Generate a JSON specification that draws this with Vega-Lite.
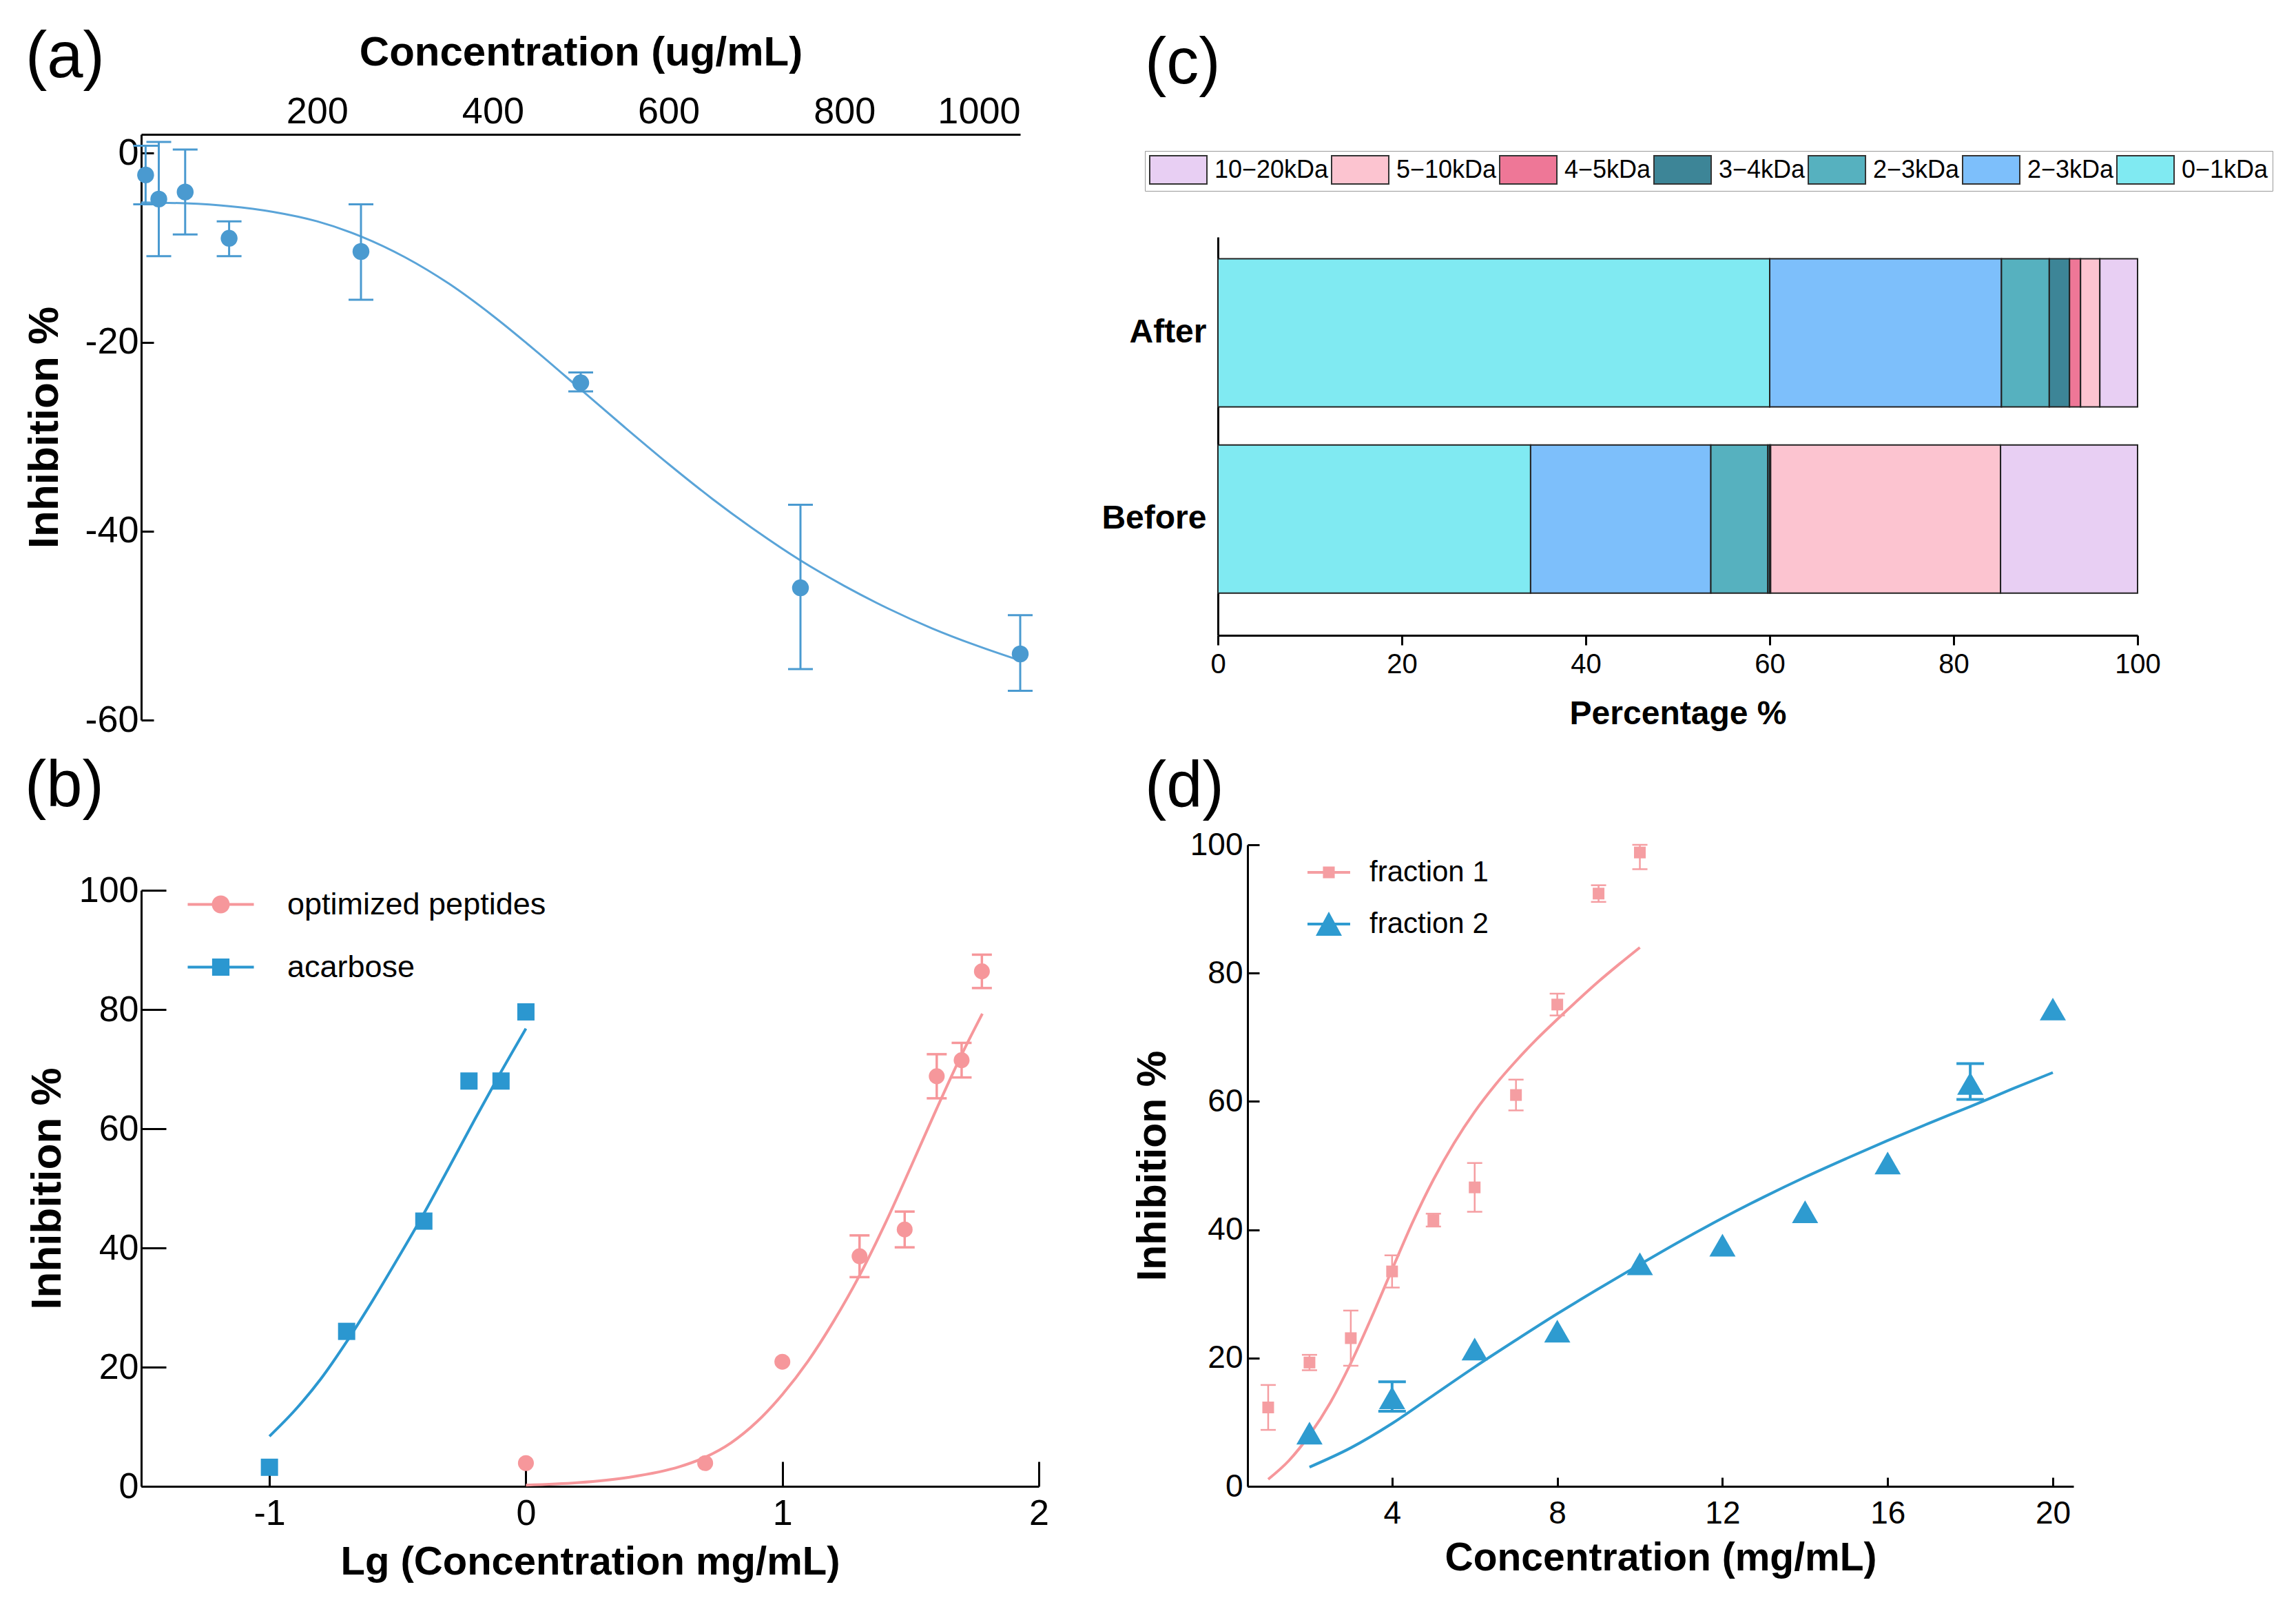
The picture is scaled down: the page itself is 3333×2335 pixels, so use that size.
{
  "$schema": "https://vega.github.io/schema/vega-lite/v6.json",
  "background": "white",
  "padding": {"left": 33, "top": 37, "right": 10, "bottom": 10},
  "config": {
    "view": {"stroke": null},
    "font": "Liberation Sans",
    "axis": {"grid": false, "domainColor": "#000", "domainWidth": 3, "tickColor": "#000", "tickWidth": 3, "labelColor": "#000", "titleColor": "#000", "labelFont": "Liberation Sans", "titleFont": "Liberation Sans", "titleFontWeight": "bold", "labelFlush": false, "labelOverlap": false},
    "legend": {"labelFont": "Liberation Sans", "labelColor": "#000", "labelLimit": 400},
    "title": {"font": "Liberation Sans", "fontWeight": "normal", "color": "#000", "anchor": "start", "frame": "group"}
  },
  "datasets": {
    "a_pts": [
      {"conc": 5, "inh": -2.3, "lo": -5.4, "hi": 0.8},
      {"conc": 20, "inh": -4.85, "lo": -10.9, "hi": 1.2},
      {"conc": 50, "inh": -4.1, "lo": -8.6, "hi": 0.4},
      {"conc": 100, "inh": -9.0, "lo": -10.9, "hi": -7.2},
      {"conc": 250, "inh": -10.4, "lo": -15.5, "hi": -5.4},
      {"conc": 500, "inh": -24.3, "lo": -25.2, "hi": -23.2},
      {"conc": 750, "inh": -46.0, "lo": -54.6, "hi": -37.2},
      {"conc": 1000, "inh": -53.0, "lo": -56.9, "hi": -48.9}
    ],
    "a_fit": [
      {"conc": 0, "inh": -5.2}, {"conc": 50, "inh": -5.3}, {"conc": 100, "inh": -5.6}, {"conc": 150, "inh": -6.2},
      {"conc": 200, "inh": -7.2}, {"conc": 250, "inh": -8.8}, {"conc": 300, "inh": -11.0}, {"conc": 350, "inh": -13.8},
      {"conc": 400, "inh": -17.2}, {"conc": 450, "inh": -21.0}, {"conc": 500, "inh": -25.0}, {"conc": 550, "inh": -29.0},
      {"conc": 600, "inh": -32.9}, {"conc": 650, "inh": -36.6}, {"conc": 700, "inh": -40.0}, {"conc": 750, "inh": -43.1},
      {"conc": 800, "inh": -45.8}, {"conc": 850, "inh": -48.2}, {"conc": 900, "inh": -50.3}, {"conc": 950, "inh": -52.1},
      {"conc": 1000, "inh": -53.7}
    ],
    "b_pts": [
      {"series": "acarbose", "lgc": -1, "inh": 3.2},
      {"series": "acarbose", "lgc": -0.699, "inh": 26.0},
      {"series": "acarbose", "lgc": -0.398, "inh": 44.5},
      {"series": "acarbose", "lgc": -0.222, "inh": 68.0},
      {"series": "acarbose", "lgc": -0.097, "inh": 68.0},
      {"series": "acarbose", "lgc": 0, "inh": 79.6},
      {"series": "optimized peptides", "lgc": 0, "inh": 3.9},
      {"series": "optimized peptides", "lgc": 0.699, "inh": 3.9},
      {"series": "optimized peptides", "lgc": 1.0, "inh": 20.9},
      {"series": "optimized peptides", "lgc": 1.301, "inh": 38.6, "lo": 35.1, "hi": 42.1},
      {"series": "optimized peptides", "lgc": 1.477, "inh": 43.1, "lo": 40.1, "hi": 46.1},
      {"series": "optimized peptides", "lgc": 1.602, "inh": 68.8, "lo": 65.1, "hi": 72.5},
      {"series": "optimized peptides", "lgc": 1.699, "inh": 71.5, "lo": 68.6, "hi": 74.4},
      {"series": "optimized peptides", "lgc": 1.778, "inh": 86.4, "lo": 83.6, "hi": 89.2}
    ],
    "b_fit": [
      {"series": "acarbose", "lgc": -1, "inh": 8.4}, {"series": "acarbose", "lgc": -0.9, "inh": 12.8},
      {"series": "acarbose", "lgc": -0.8, "inh": 18.0}, {"series": "acarbose", "lgc": -0.7, "inh": 24.2},
      {"series": "acarbose", "lgc": -0.6, "inh": 31.0}, {"series": "acarbose", "lgc": -0.5, "inh": 38.2},
      {"series": "acarbose", "lgc": -0.4, "inh": 45.6}, {"series": "acarbose", "lgc": -0.3, "inh": 53.5},
      {"series": "acarbose", "lgc": -0.2, "inh": 61.5}, {"series": "acarbose", "lgc": -0.1, "inh": 69.3},
      {"series": "acarbose", "lgc": 0, "inh": 76.8},
      {"series": "optimized peptides", "lgc": 0, "inh": 0.2}, {"series": "optimized peptides", "lgc": 0.2, "inh": 0.6},
      {"series": "optimized peptides", "lgc": 0.4, "inh": 1.5}, {"series": "optimized peptides", "lgc": 0.6, "inh": 3.3},
      {"series": "optimized peptides", "lgc": 0.7, "inh": 4.9}, {"series": "optimized peptides", "lgc": 0.8, "inh": 7.3},
      {"series": "optimized peptides", "lgc": 0.9, "inh": 10.8}, {"series": "optimized peptides", "lgc": 1.0, "inh": 15.4},
      {"series": "optimized peptides", "lgc": 1.1, "inh": 21.0}, {"series": "optimized peptides", "lgc": 1.2, "inh": 27.7},
      {"series": "optimized peptides", "lgc": 1.3, "inh": 35.3}, {"series": "optimized peptides", "lgc": 1.4, "inh": 44.0},
      {"series": "optimized peptides", "lgc": 1.5, "inh": 53.5}, {"series": "optimized peptides", "lgc": 1.6, "inh": 63.2},
      {"series": "optimized peptides", "lgc": 1.7, "inh": 72.5}, {"series": "optimized peptides", "lgc": 1.78, "inh": 79.3}
    ],
    "c_data": [
      {"sample": "After", "fraction": "0−1kDa", "pct": 60.0, "idx": 1},
      {"sample": "After", "fraction": "2−3kDa ", "pct": 25.2, "idx": 2},
      {"sample": "After", "fraction": "2−3kDa", "pct": 5.2, "idx": 3},
      {"sample": "After", "fraction": "3−4kDa", "pct": 2.2, "idx": 4},
      {"sample": "After", "fraction": "4−5kDa", "pct": 1.2, "idx": 5},
      {"sample": "After", "fraction": "5−10kDa", "pct": 2.1, "idx": 6},
      {"sample": "After", "fraction": "10−20kDa", "pct": 4.1, "idx": 7},
      {"sample": "Before", "fraction": "0−1kDa", "pct": 34.0, "idx": 1},
      {"sample": "Before", "fraction": "2−3kDa ", "pct": 19.6, "idx": 2},
      {"sample": "Before", "fraction": "2−3kDa", "pct": 6.2, "idx": 3},
      {"sample": "Before", "fraction": "3−4kDa", "pct": 0.2, "idx": 4},
      {"sample": "Before", "fraction": "4−5kDa", "pct": 0.1, "idx": 5},
      {"sample": "Before", "fraction": "5−10kDa", "pct": 25.0, "idx": 6},
      {"sample": "Before", "fraction": "10−20kDa", "pct": 14.9, "idx": 7}
    ],
    "d_pts": [
      {"series": "fraction 1", "conc": 1, "inh": 12.3, "lo": 8.8, "hi": 15.8},
      {"series": "fraction 1", "conc": 2, "inh": 19.3, "lo": 18.1, "hi": 20.5},
      {"series": "fraction 1", "conc": 3, "inh": 23.1, "lo": 18.8, "hi": 27.4},
      {"series": "fraction 1", "conc": 4, "inh": 33.5, "lo": 31.0, "hi": 36.0},
      {"series": "fraction 1", "conc": 5, "inh": 41.5, "lo": 40.5, "hi": 42.5},
      {"series": "fraction 1", "conc": 6, "inh": 46.6, "lo": 42.8, "hi": 50.4},
      {"series": "fraction 1", "conc": 7, "inh": 61.0, "lo": 58.6, "hi": 63.4},
      {"series": "fraction 1", "conc": 8, "inh": 75.1, "lo": 73.4, "hi": 76.8},
      {"series": "fraction 1", "conc": 9, "inh": 92.4, "lo": 91.1, "hi": 93.7},
      {"series": "fraction 1", "conc": 10, "inh": 98.8, "lo": 96.2, "hi": 100},
      {"series": "fraction 2", "conc": 2, "inh": 8.3},
      {"series": "fraction 2", "conc": 4, "inh": 13.8, "lo": 11.7, "hi": 16.3},
      {"series": "fraction 2", "conc": 6, "inh": 21.4},
      {"series": "fraction 2", "conc": 8, "inh": 24.2},
      {"series": "fraction 2", "conc": 10, "inh": 34.7},
      {"series": "fraction 2", "conc": 12, "inh": 37.6},
      {"series": "fraction 2", "conc": 14, "inh": 42.8},
      {"series": "fraction 2", "conc": 16, "inh": 50.4},
      {"series": "fraction 2", "conc": 18, "inh": 62.8, "lo": 60.3, "hi": 65.9},
      {"series": "fraction 2", "conc": 20, "inh": 74.4}
    ],
    "d_fit": [
      {"series": "fraction 1", "conc": 1, "inh": 1.1}, {"series": "fraction 1", "conc": 1.5, "inh": 4.0},
      {"series": "fraction 1", "conc": 2, "inh": 8.0}, {"series": "fraction 1", "conc": 2.5, "inh": 13.0},
      {"series": "fraction 1", "conc": 3, "inh": 19.2}, {"series": "fraction 1", "conc": 3.5, "inh": 26.3},
      {"series": "fraction 1", "conc": 4, "inh": 33.8}, {"series": "fraction 1", "conc": 4.5, "inh": 41.2},
      {"series": "fraction 1", "conc": 5, "inh": 47.8}, {"series": "fraction 1", "conc": 5.5, "inh": 53.5},
      {"series": "fraction 1", "conc": 6, "inh": 58.4}, {"series": "fraction 1", "conc": 6.5, "inh": 62.6},
      {"series": "fraction 1", "conc": 7, "inh": 66.3}, {"series": "fraction 1", "conc": 7.5, "inh": 69.7},
      {"series": "fraction 1", "conc": 8, "inh": 72.8}, {"series": "fraction 1", "conc": 8.5, "inh": 75.8},
      {"series": "fraction 1", "conc": 9, "inh": 78.7}, {"series": "fraction 1", "conc": 9.5, "inh": 81.4},
      {"series": "fraction 1", "conc": 10, "inh": 84.0},
      {"series": "fraction 2", "conc": 2, "inh": 3.0}, {"series": "fraction 2", "conc": 3, "inh": 6.0},
      {"series": "fraction 2", "conc": 4, "inh": 9.8}, {"series": "fraction 2", "conc": 5, "inh": 14.2},
      {"series": "fraction 2", "conc": 6, "inh": 18.6}, {"series": "fraction 2", "conc": 7, "inh": 22.8},
      {"series": "fraction 2", "conc": 8, "inh": 26.9}, {"series": "fraction 2", "conc": 9, "inh": 30.8},
      {"series": "fraction 2", "conc": 10, "inh": 34.6}, {"series": "fraction 2", "conc": 11, "inh": 38.3},
      {"series": "fraction 2", "conc": 12, "inh": 41.8}, {"series": "fraction 2", "conc": 13, "inh": 45.1},
      {"series": "fraction 2", "conc": 14, "inh": 48.2}, {"series": "fraction 2", "conc": 15, "inh": 51.1},
      {"series": "fraction 2", "conc": 16, "inh": 53.9}, {"series": "fraction 2", "conc": 17, "inh": 56.6},
      {"series": "fraction 2", "conc": 18, "inh": 59.2}, {"series": "fraction 2", "conc": 19, "inh": 61.9},
      {"series": "fraction 2", "conc": 20, "inh": 64.5}
    ]
  },
  "columns": 2,
  "spacing": {"row": 181, "column": 260},
  "bounds": "flush",
  "align": "each",
  "resolve": {
    "scale": {"x": "independent", "y": "independent", "color": "independent", "shape": "independent"},
    "legend": {"color": "independent", "shape": "independent"}
  },
  "concat": [
    {
      "width": 1276, "height": 850,
      "title": {"text": "(a)", "fontSize": 94, "dx": -168, "dy": 90},
      "layer": [
        {
          "data": {"name": "a_fit"},
          "mark": {"type": "line", "color": "#5AA4D8", "strokeWidth": 3, "interpolate": "monotone"},
          "encoding": {
            "x": {"field": "conc", "type": "quantitative", "scale": {"domain": [0, 1000], "nice": false},
                  "axis": {"orient": "top", "title": "Concentration (ug/mL)", "values": [200, 400, 600, 800, 1000], "ticks": false, "labelFlush": true, "labelFontSize": 54, "labelPadding": 6, "titleFontSize": 60, "titlePadding": 28, "labelExpr": "'' + datum.value"}},
            "y": {"field": "inh", "type": "quantitative", "scale": {"domain": [-60, 2], "nice": false, "zero": false},
                  "axis": {"title": "Inhibition %", "values": [0, -20, -40, -60], "tickSize": -18, "labelPadding": 22, "labelFontSize": 54, "titleFontSize": 62, "titlePadding": 26, "labelExpr": "'' + datum.value"}}
          }
        },
        {
          "data": {"name": "a_pts"},
          "mark": {"type": "rule", "color": "#4A9AD0", "strokeWidth": 3},
          "encoding": {
            "x": {"field": "conc", "type": "quantitative"},
            "y": {"field": "lo", "type": "quantitative"},
            "y2": {"field": "hi"}
          }
        },
        {
          "data": {"name": "a_pts"},
          "mark": {"type": "tick", "orient": "horizontal", "size": 36, "thickness": 3, "color": "#4A9AD0", "opacity": 1},
          "encoding": {"x": {"field": "conc", "type": "quantitative"}, "y": {"field": "lo", "type": "quantitative"}}
        },
        {
          "data": {"name": "a_pts"},
          "mark": {"type": "tick", "orient": "horizontal", "size": 36, "thickness": 3, "color": "#4A9AD0", "opacity": 1},
          "encoding": {"x": {"field": "conc", "type": "quantitative"}, "y": {"field": "hi", "type": "quantitative"}}
        },
        {
          "data": {"name": "a_pts"},
          "mark": {"type": "circle", "size": 600, "color": "#4A9AD0", "opacity": 1},
          "encoding": {"x": {"field": "conc", "type": "quantitative"}, "y": {"field": "inh", "type": "quantitative"}}
        }
      ]
    },
    {
      "width": 1335, "height": 727,
      "title": {"text": "(c)", "fontSize": 94, "dx": -106, "offset": 54},
      "data": {"name": "c_data"},
      "mark": {"type": "bar", "stroke": "#222", "strokeWidth": 2},
      "encoding": {
        "y": {"field": "sample", "type": "nominal", "sort": ["After", "Before"],
              "scale": {"range": [149, 727], "paddingInner": 0.204, "paddingOuter": 0.172, "align": 0.34},
              "axis": {"title": null, "ticks": false, "labelFontSize": 48, "labelFontWeight": "bold", "labelPadding": 17, "labelAngle": 0}},
        "x": {"field": "pct", "type": "quantitative", "stack": "zero", "scale": {"domain": [0, 100], "nice": false},
              "axis": {"title": "Percentage %", "values": [0, 20, 40, 60, 80, 100], "tickSize": 14, "labelFontSize": 40, "labelPadding": 8, "titleFontSize": 48, "titlePadding": 28}},
        "color": {"field": "fraction", "type": "nominal",
                  "scale": {"domain": ["10−20kDa", "5−10kDa", "4−5kDa", "3−4kDa", "2−3kDa", "2−3kDa ", "0−1kDa"],
                            "range": ["#E8CFF3", "#FCC4D0", "#EE7797", "#3D8597", "#56B1BF", "#7DBFFB", "#80EAF2"]},
                  "legend": {"orient": "none", "legendX": -106, "legendY": 24, "direction": "horizontal", "columns": 7, "title": null,
                             "padding": 6, "strokeColor": "#9a9a9a", "fillColor": "white",
                             "symbolType": "M-1,-1H3.05V1H-1Z", "symbolSize": 1681, "symbolStrokeColor": "#333", "symbolStrokeWidth": 2, "symbolOpacity": 1,
                             "labelFontSize": 36, "labelOffset": 52, "columnPadding": 0,
                             "encode": {"legend": {"strokeWidth": {"value": 3}}}}},
        "order": {"field": "idx", "type": "quantitative"}
      }
    },
    {
      "width": 1303, "height": 931,
      "title": {"text": "(b)", "fontSize": 94, "dx": -169, "offset": 36},
      "layer": [
        {
          "data": {"name": "b_fit"},
          "transform": [{"filter": "datum.series === 'acarbose'"}],
          "mark": {"type": "line", "strokeWidth": 4, "interpolate": "monotone", "color": "#2B97D0"},
          "encoding": {
            "x": {"field": "lgc", "type": "quantitative", "scale": {"domain": [-1.5, 2], "nice": false, "zero": false},
                  "axis": {"title": "Lg (Concentration mg/mL)", "values": [-1, 0, 1, 2], "tickSize": -36, "labelPadding": 50, "labelFontSize": 52, "titleFontSize": 58, "titlePadding": 16, "labelExpr": "'' + datum.value"}},
            "y": {"field": "inh", "type": "quantitative", "scale": {"domain": [0, 100], "range": [931, 66], "nice": false},
                  "axis": {"title": "Inhibition %", "values": [0, 20, 40, 60, 80, 100], "tickSize": -36, "labelPadding": 40, "labelFontSize": 52, "titleFontSize": 62, "titlePadding": 14}}
          }
        },
        {
          "data": {"name": "b_fit"},
          "transform": [{"filter": "datum.series === 'optimized peptides'"}],
          "mark": {"type": "line", "strokeWidth": 4, "interpolate": "monotone", "color": "#F6979B"},
          "encoding": {
            "x": {"field": "lgc", "type": "quantitative"},
            "y": {"field": "inh", "type": "quantitative"}
          }
        },
        {
          "data": {"name": "b_pts"},
          "transform": [{"filter": "isValid(datum.lo)"}],
          "mark": {"type": "rule", "color": "#F6979B", "strokeWidth": 3.5},
          "encoding": {"x": {"field": "lgc", "type": "quantitative"}, "y": {"field": "lo", "type": "quantitative"}, "y2": {"field": "hi"}}
        },
        {
          "data": {"name": "b_pts"},
          "transform": [{"filter": "isValid(datum.lo)"}],
          "mark": {"type": "tick", "orient": "horizontal", "size": 29, "thickness": 3.5, "color": "#F6979B", "opacity": 1},
          "encoding": {"x": {"field": "lgc", "type": "quantitative"}, "y": {"field": "lo", "type": "quantitative"}}
        },
        {
          "data": {"name": "b_pts"},
          "transform": [{"filter": "isValid(datum.lo)"}],
          "mark": {"type": "tick", "orient": "horizontal", "size": 29, "thickness": 3.5, "color": "#F6979B", "opacity": 1},
          "encoding": {"x": {"field": "lgc", "type": "quantitative"}, "y": {"field": "hi", "type": "quantitative"}}
        },
        {
          "data": {"name": "b_pts"},
          "transform": [{"filter": "datum.series === 'optimized peptides'"}],
          "mark": {"type": "point", "shape": "circle", "filled": true, "size": 531, "opacity": 1},
          "encoding": {
            "x": {"field": "lgc", "type": "quantitative"},
            "y": {"field": "inh", "type": "quantitative"},
            "color": {"field": "series", "type": "nominal", "scale": {"domain": ["optimized peptides", "acarbose"], "range": ["#F6979B", "#2B97D0"]}}
          }
        },
        {
          "data": {"name": "b_pts"},
          "transform": [{"filter": "datum.series === 'acarbose'"}],
          "mark": {"type": "point", "shape": "square", "filled": true, "size": 625, "opacity": 1},
          "encoding": {
            "x": {"field": "lgc", "type": "quantitative"},
            "y": {"field": "inh", "type": "quantitative"},
            "color": {"field": "series", "type": "nominal", "scale": {"domain": ["optimized peptides", "acarbose"], "range": ["#F6979B", "#2B97D0"]}}
          }
        },
        {
          "data": {"name": "b_pts"},
          "mark": {"type": "point", "filled": true, "size": 784, "opacity": 0},
          "encoding": {
            "x": {"field": "lgc", "type": "quantitative"},
            "y": {"field": "inh", "type": "quantitative"},
            "color": {"field": "series", "type": "nominal", "scale": {"domain": ["optimized peptides", "acarbose"], "range": ["#F6979B", "#2B97D0"]},
                      "legend": {"orient": "none", "legendX": 93, "legendY": 64, "title": null, "padding": 0, "labelFontSize": 45, "labelOffset": 74, "rowPadding": 45, "symbolSize": 784, "symbolOpacity": 1, "symbolStrokeWidth": 0, "direction": "vertical"}},
            "shape": {"field": "series", "type": "nominal",
                      "scale": {"domain": ["optimized peptides", "acarbose"],
                                "range": ["M-3.43,-0.14H3.43V0.14H-3.43Z M-0.93,0A0.93,0.93 0 1,1 0.93,0A0.93,0.93 0 1,1 -0.93,0Z", "M-3.43,-0.14H3.43V0.14H-3.43Z M-0.9,-0.9H0.9V0.9H-0.9Z"]},
                      "legend": {"orient": "none", "legendX": 93, "legendY": 64, "title": null, "padding": 0, "labelFontSize": 45, "labelOffset": 74, "rowPadding": 45, "symbolSize": 784, "symbolOpacity": 1, "symbolStrokeWidth": 0, "direction": "vertical"}}
          }
        }
      ]
    },
    {
      "width": 1242, "height": 931,
      "title": {"text": "(d)", "fontSize": 94, "dx": -106, "offset": 12},
      "layer": [
        {
          "data": {"name": "d_fit"},
          "transform": [{"filter": "datum.series === 'fraction 1'"}],
          "mark": {"type": "line", "strokeWidth": 4, "interpolate": "monotone", "color": "#F6979B"},
          "encoding": {
            "x": {"field": "conc", "type": "quantitative", "scale": {"domain": [0.5, 20.5], "range": [43, 1242], "nice": false, "zero": false},
                  "axis": {"title": "Concentration (mg/mL)", "values": [4, 8, 12, 16, 20], "tickSize": -13, "labelPadding": 30, "labelFontSize": 46, "titleFontSize": 57, "titlePadding": 14, "labelExpr": "'' + datum.value"}},
            "y": {"field": "inh", "type": "quantitative", "scale": {"domain": [0, 100], "nice": false},
                  "axis": {"title": "Inhibition %", "values": [0, 20, 40, 60, 80, 100], "tickSize": -17, "labelPadding": 24, "labelFontSize": 46, "titleFontSize": 59, "titlePadding": 24, "offset": -43}}
          }
        },
        {
          "data": {"name": "d_fit"},
          "transform": [{"filter": "datum.series === 'fraction 2'"}],
          "mark": {"type": "line", "strokeWidth": 4, "interpolate": "monotone", "color": "#2E9BD0"},
          "encoding": {
            "x": {"field": "conc", "type": "quantitative"},
            "y": {"field": "inh", "type": "quantitative"}
          }
        },
        {
          "data": {"name": "d_pts"},
          "transform": [{"filter": "isValid(datum.lo) && datum.series === 'fraction 1'"}],
          "mark": {"type": "rule", "color": "#F59EA2", "strokeWidth": 2.5},
          "encoding": {"x": {"field": "conc", "type": "quantitative"}, "y": {"field": "lo", "type": "quantitative"}, "y2": {"field": "hi"}}
        },
        {
          "data": {"name": "d_pts"},
          "transform": [{"filter": "isValid(datum.lo) && datum.series === 'fraction 1'"}],
          "mark": {"type": "tick", "orient": "horizontal", "size": 22, "thickness": 2.5, "color": "#F59EA2", "opacity": 1},
          "encoding": {"x": {"field": "conc", "type": "quantitative"}, "y": {"field": "lo", "type": "quantitative"}}
        },
        {
          "data": {"name": "d_pts"},
          "transform": [{"filter": "isValid(datum.lo) && datum.series === 'fraction 1'"}],
          "mark": {"type": "tick", "orient": "horizontal", "size": 22, "thickness": 2.5, "color": "#F59EA2", "opacity": 1},
          "encoding": {"x": {"field": "conc", "type": "quantitative"}, "y": {"field": "hi", "type": "quantitative"}}
        },
        {
          "data": {"name": "d_pts"},
          "transform": [{"filter": "isValid(datum.lo) && datum.series === 'fraction 2'"}],
          "mark": {"type": "rule", "color": "#2E9BD0", "strokeWidth": 4},
          "encoding": {"x": {"field": "conc", "type": "quantitative"}, "y": {"field": "lo", "type": "quantitative"}, "y2": {"field": "hi"}}
        },
        {
          "data": {"name": "d_pts"},
          "transform": [{"filter": "isValid(datum.lo) && datum.series === 'fraction 2'"}],
          "mark": {"type": "tick", "orient": "horizontal", "size": 40, "thickness": 4, "color": "#2E9BD0", "opacity": 1},
          "encoding": {"x": {"field": "conc", "type": "quantitative"}, "y": {"field": "lo", "type": "quantitative"}}
        },
        {
          "data": {"name": "d_pts"},
          "transform": [{"filter": "isValid(datum.lo) && datum.series === 'fraction 2'"}],
          "mark": {"type": "tick", "orient": "horizontal", "size": 40, "thickness": 4, "color": "#2E9BD0", "opacity": 1},
          "encoding": {"x": {"field": "conc", "type": "quantitative"}, "y": {"field": "hi", "type": "quantitative"}}
        },
        {
          "data": {"name": "d_pts"},
          "transform": [{"filter": "datum.series === 'fraction 1'"}],
          "mark": {"type": "point", "shape": "square", "filled": true, "size": 289, "opacity": 1},
          "encoding": {
            "x": {"field": "conc", "type": "quantitative"},
            "y": {"field": "inh", "type": "quantitative"},
            "color": {"field": "series", "type": "nominal", "scale": {"domain": ["fraction 1", "fraction 2"], "range": ["#F59EA2", "#2E9BD0"]}}
          }
        },
        {
          "data": {"name": "d_pts"},
          "transform": [{"filter": "datum.series === 'fraction 2'"}],
          "mark": {"type": "point", "shape": "triangle-up", "filled": true, "size": 1444, "opacity": 1},
          "encoding": {
            "x": {"field": "conc", "type": "quantitative"},
            "y": {"field": "inh", "type": "quantitative"},
            "color": {"field": "series", "type": "nominal", "scale": {"domain": ["fraction 1", "fraction 2"], "range": ["#F59EA2", "#2E9BD0"]}}
          }
        },
        {
          "data": {"name": "d_pts"},
          "mark": {"type": "point", "filled": true, "size": 1444, "opacity": 0},
          "encoding": {
            "x": {"field": "conc", "type": "quantitative"},
            "y": {"field": "inh", "type": "quantitative"},
            "color": {"field": "series", "type": "nominal", "scale": {"domain": ["fraction 1", "fraction 2"], "range": ["#F59EA2", "#2E9BD0"]},
                      "legend": {"orient": "none", "legendX": 140, "legendY": 19, "title": null, "padding": 0, "labelFontSize": 42, "labelOffset": 38, "rowPadding": 33, "symbolSize": 1444, "symbolOpacity": 1, "symbolStrokeWidth": 0, "direction": "vertical"}},
            "shape": {"field": "series", "type": "nominal",
                      "scale": {"domain": ["fraction 1", "fraction 2"],
                                "range": ["M-1.63,-0.1H1.63V0.1H-1.63Z M-0.45,-0.45H0.45V0.45H-0.45Z", "M-1.63,-0.1H1.63V0.1H-1.63Z M0,-0.95L1,0.9L-1,0.9Z"]},
                      "legend": {"orient": "none", "legendX": 140, "legendY": 19, "title": null, "padding": 0, "labelFontSize": 42, "labelOffset": 38, "rowPadding": 33, "symbolSize": 1444, "symbolOpacity": 1, "symbolStrokeWidth": 0, "direction": "vertical"}}
          }
        }
      ]
    }
  ]
}
